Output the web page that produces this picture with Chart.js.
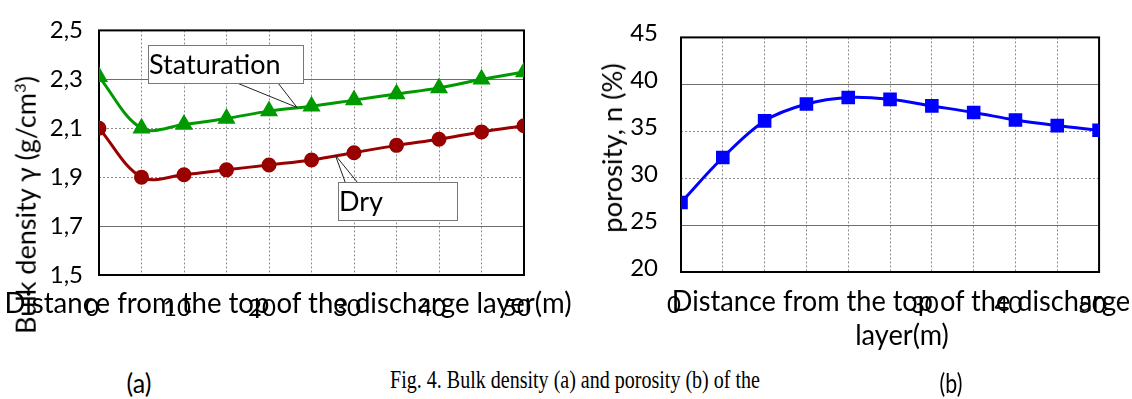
<!DOCTYPE html>
<html>
<head>
<meta charset="utf-8">
<script src="https://cdn.jsdelivr.net/npm/chart.js@4.4.0/dist/chart.umd.min.js"></script>
<style>
  body { margin: 0; background: #fff; width: 1132px; height: 399px; overflow: hidden; position: relative; font-family: Lato, sans-serif; }
  .box { position: absolute; top: 0; height: 330px; }
  .t { position: absolute; white-space: nowrap; color: #000; line-height: 1; transform-origin: center center; }
</style>
</head>
<body>
<div class="box" style="left:0;width:566px"><canvas id="density"></canvas></div>
<div class="box" style="left:566px;width:566px"><canvas id="porosity"></canvas></div>

<div class="t" id="xTitleA" style="font-size:28px">Distance from the top of the discharge layer(m)</div>
<div class="t" id="yTitleA" style="font-size:26px">Bulk density γ (g/cm<sup style="font-size:16px">3</sup>)</div>
<div class="t" id="xTitleB1" style="font-size:28px">Distance from the top of the discharge</div>
<div class="t" id="xTitleB2" style="font-size:28px">layer(m)</div>
<div class="t" id="yTitleB" style="font-size:26px">porosity, n (%)</div>

<div class="t" id="capA" style="font-size:26px">(a)</div>
<div class="t" id="capFig" style="font-size:25px;font-family:'Liberation Serif',serif">Fig. 4. Bulk density (a) and porosity (b) of the</div>
<div class="t" id="capB" style="font-size:26px">(b)</div>

<script>
// distance from the top of the discharge layer (m)
const distance = [0, 5, 10, 15, 20, 25, 30, 35, 40, 45, 50];
// bulk density (g/cm3)
const dryDensity = [2.10, 1.90, 1.91, 1.93, 1.95, 1.97, 2.00, 2.03, 2.055, 2.085, 2.11];
const satDensity = [2.31, 2.10, 2.115, 2.14, 2.17, 2.19, 2.215, 2.24, 2.265, 2.30, 2.33];
// porosity (%)
const porosity = [27.4, 32.2, 36.1, 37.9, 38.6, 38.4, 37.7, 37.0, 36.2, 35.6, 35.1];

const xTickLabelsA = ['0', '10', '20', '30', '40', '50'];
const xTickLabelsB = ['0', '30', '40', '50'];   // 10 and 20 sit under the title
const densitySolid = [1.7, 2.3];
const porositySolid = [25, 40];

const font = { family: 'Lato', size: 24 };

const toPoints = (ys) => distance.map((x, i) => ({ x: x, y: ys[i] }));
const near = (v, list) => list.some(s => Math.abs(s - v) < 1e-6);

// place a text by its centre and stretch it to a given length
function place(id, cx, cy, length, rotated, scale) {
  const el = document.getElementById(id);
  const s = scale || length / el.offsetWidth;
  el.style.left = cx + 'px';
  el.style.top = cy + 'px';
  el.style.transform = 'translate(-50%,-50%) ' + (rotated ? 'rotate(-90deg) ' : '') + 'scaleX(' + s + ')';
  return s;
}
place('xTitleA', 288, 302, 567);
place('yTitleA', 25, 205, 258, true);
const sB = place('xTitleB1', 901, 300, 458);
place('xTitleB2', 902, 334, 0, false, sB);
place('yTitleB', 612, 148, 170, true);
place('capA', 139, 383, 25);
place('capFig', 575, 379, 370);
place('capB', 951, 383, 23);

// frame around the plot area
const frame = {
  id: 'frame',
  beforeDatasetsDraw(chart) {
    const a = chart.chartArea, c = chart.ctx;
    c.save();
    c.strokeStyle = '#000';
    c.lineWidth = 2;
    c.strokeRect(a.left, a.top, a.right - a.left, a.bottom - a.top);
    c.restore();
  }
};

// callout labels, tip given in data units
const callouts = [
  { text: 'Staturation', tip: [23.3, 2.185], rect: [148, 45, 155, 38], base: [237, 278] },
  { text: 'Dry', tip: [27.8, 1.99], rect: [338, 182, 119, 38], base: [359, 388] }
];
const calloutPlugin = {
  id: 'callouts',
  afterDatasetsDraw(chart) {
    const c = chart.ctx, xs = chart.scales.x, ys = chart.scales.y;
    c.save();
    callouts.forEach(o => {
      const tx = xs.getPixelForValue(o.tip[0]), ty = ys.getPixelForValue(o.tip[1]);
      const [l, t, w, h] = o.rect;
      c.strokeStyle = '#222';
      c.lineWidth = 1;
      c.beginPath();
      c.moveTo(o.base[0], t + h); c.lineTo(tx, ty); c.lineTo(o.base[1], t + h);
      c.stroke();
      c.fillStyle = '#fff';
      c.fillRect(l, t, w, h);
      c.strokeStyle = '#777';
      c.strokeRect(l + 0.5, t + 0.5, w, h);
      c.fillStyle = '#000';
      c.font = '27px Lato';
      c.textBaseline = 'middle';
      c.fillText(o.text, l + 1, t + h / 2 + 1);
    });
    c.restore();
  }
};

const xAxis = (labels, height) => ({
  type: 'linear', min: 0, max: 50,
  afterFit: s => { s.height = height; },
  ticks: {
    stepSize: 5, autoSkip: false, maxRotation: 0, padding: 19, labelOffset: -7, color: '#000', font: font,
    callback: v => labels.includes(String(v)) ? String(v) : ''
  },
  grid: { color: '#8c8c8c', lineWidth: 1, drawTicks: false },
  border: { display: false, dash: [2, 2] }
});

const yAxis = (min, max, step, solid, width, pad, shift, fmt) => ({
  min: min, max: max,
  afterFit: s => { s.width = width; },
  ticks: { stepSize: step, padding: pad, labelOffset: shift, color: '#000', font: font, callback: fmt },
  grid: {
    drawTicks: false, lineWidth: 1,
    color: ctx => near(ctx.tick.value, solid) ? '#6e6e6e' : '#8c8c8c'
  },
  border: { display: false, dash: ctx => near(ctx.tick.value, solid) ? [] : [2, 2] }
});

Chart.defaults.animation = false;

new Chart(document.getElementById('density'), {
  type: 'line',
  data: {
    datasets: [
      {
        label: 'Dry', data: toPoints(dryDensity),
        borderColor: '#990000', backgroundColor: '#990000', borderWidth: 3,
        pointStyle: 'circle', pointRadius: 6, tension: 0.35
      },
      {
        label: 'Staturation', data: toPoints(satDensity),
        borderColor: '#009900', backgroundColor: '#009900', borderWidth: 3,
        pointStyle: 'triangle', pointRadius: 7.5, tension: 0.35
      }
    ]
  },
  options: {
    responsive: true, maintainAspectRatio: false,
    layout: { padding: { left: 0, top: 26, right: 42, bottom: 0 } },
    plugins: { legend: { display: false }, tooltip: { enabled: false } },
    scales: {
      x: xAxis(xTickLabelsA, 55),
      y: yAxis(1.5, 2.5, 0.2, densitySolid, 99, 16, 0, v => v.toFixed(1).replace('.', ','))
    }
  },
  plugins: [frame, calloutPlugin]
});

new Chart(document.getElementById('porosity'), {
  type: 'line',
  data: {
    datasets: [{
      label: 'porosity', data: toPoints(porosity),
      borderColor: '#0000ff', backgroundColor: '#0000ff', borderWidth: 3,
      pointStyle: 'rect', pointRadius: 7.5, tension: 0.35
    }]
  },
  options: {
    responsive: true, maintainAspectRatio: false,
    layout: { padding: { left: 0, top: 24, right: 25, bottom: 0 } },
    plugins: { legend: { display: false }, tooltip: { enabled: false } },
    scales: {
      x: xAxis(xTickLabelsB, 58),
      y: yAxis(20, 45, 5, porositySolid, 115, 23, -4, v => String(v))
    }
  },
  plugins: [frame]
});
</script>
</body>
</html>
